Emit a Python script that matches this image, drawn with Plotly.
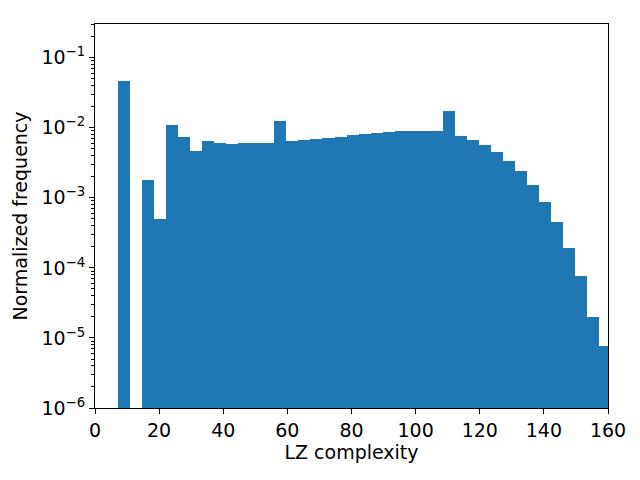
import numpy as np
import plotly.graph_objects as go

# histogram of LZ complexity, 41 equal-width bins
bin_start = 7.2
bin_width = 3.75
freq = [
    0.0458, None, 0.00182, 0.00049, 0.0108, 0.00727, 0.00458, 0.00637,
    0.00597, 0.00577, 0.00597, 0.00597, 0.00597, 0.0123, 0.00637, 0.0066,
    0.0068, 0.00704, 0.00727, 0.00776, 0.00811, 0.0084, 0.00857, 0.00885,
    0.0091, 0.0091, 0.0091, 0.0171, 0.0075, 0.0066, 0.00558, 0.00444,
    0.0033, 0.00238, 0.0015, 0.000857, 0.000458, 0.000189, 0.0000776,
    0.0000201, 0.00000776,
]
centers = bin_start + bin_width * (np.arange(len(freq)) + 0.5)

x_ticks = [0, 20, 40, 60, 80, 100, 120, 140, 160]
y_exps = [-6, -5, -4, -3, -2, -1]

font = dict(family="DejaVu Sans", size=19, color="black")

fig = go.Figure()
fig.add_trace(go.Bar(
    x=centers, y=freq, width=bin_width,
    marker=dict(color="#1f77b4", line=dict(width=0)),
))

minor_vals = [m * 10.0 ** e for e in range(-6, 0) for m in range(2, 10)]

# page body has an 8px default margin, so size the figure to fit inside it
fig.update_layout(
    width=632, height=472,
    margin=dict(l=87, r=32, t=16, b=72),
    plot_bgcolor="white", paper_bgcolor="white",
    showlegend=False, bargap=0,
    font=font,
    xaxis=dict(
        range=[0, 160], tickvals=x_ticks, ticks="outside", ticklen=5,
        tickwidth=1, tickcolor="black", showgrid=False, zeroline=False,
        showline=True, linecolor="black", linewidth=1, mirror=True,
        title=dict(text="LZ complexity", font=font, standoff=3),
        tickfont=font,
    ),
    yaxis=dict(
        type="log", range=[-6, -0.52],
        tickvals=[10.0 ** e for e in y_exps],
        ticktext=[f"10<sup>\u2212{-e}</sup>" for e in y_exps],
        ticks="outside", ticklen=5, tickwidth=1, tickcolor="black",
        minor=dict(tickvals=minor_vals, ticks="outside", ticklen=3,
                   tickcolor="black", showgrid=False),
        showgrid=False, zeroline=False,
        showline=True, linecolor="black", linewidth=1, mirror=True,
        title=dict(text="Normalized frequency", font=font, standoff=8),
        tickfont=font,
    ),
)

fig.write_html("out.html")
